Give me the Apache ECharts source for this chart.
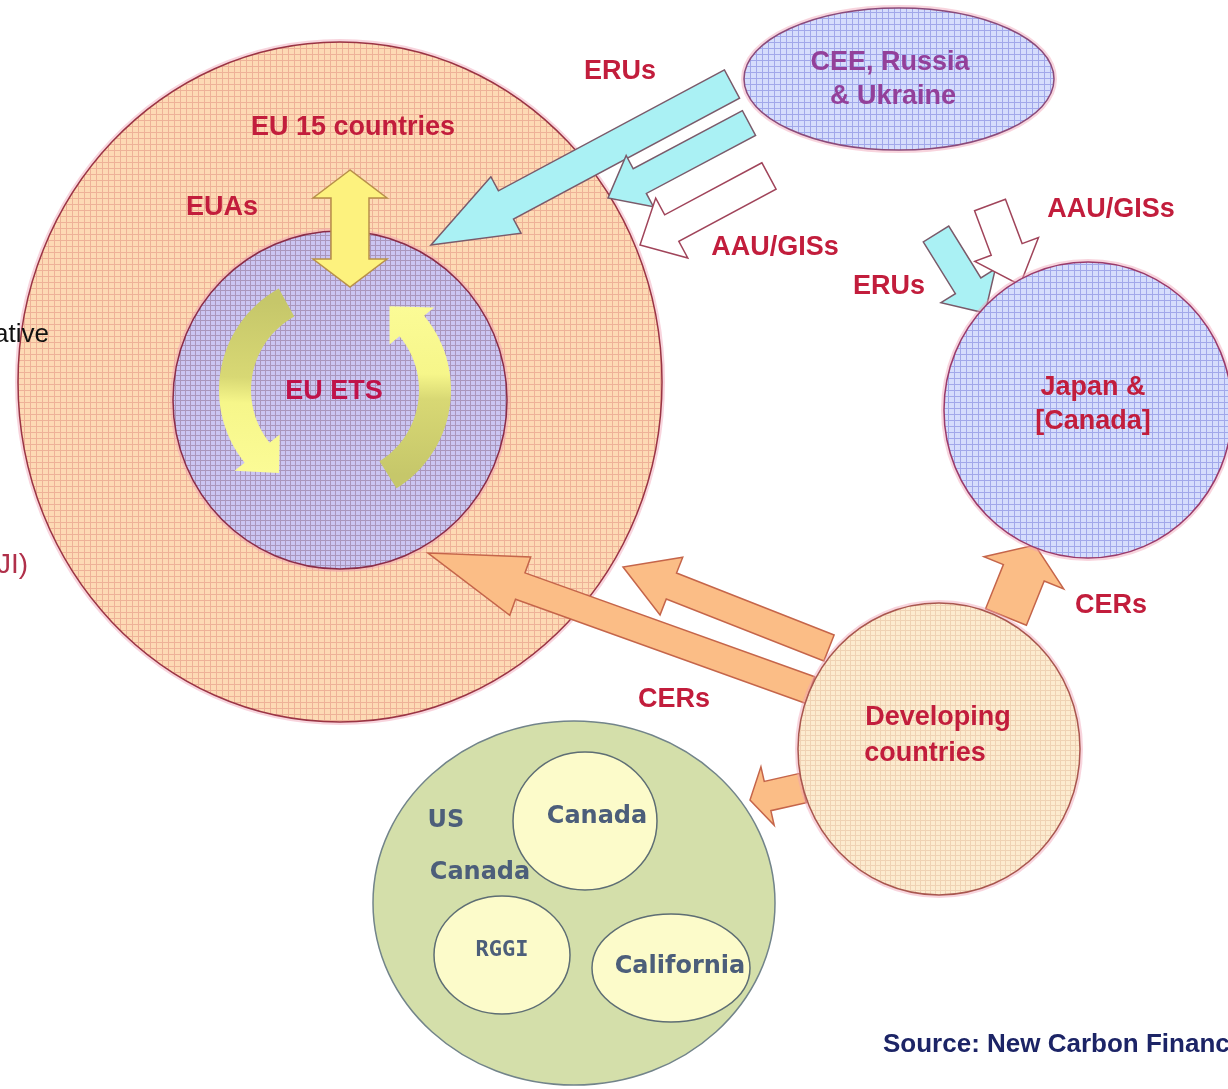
<!DOCTYPE html>
<html>
<head>
<meta charset="utf-8">
<script src="https://cdn.jsdelivr.net/npm/echarts@6/dist/echarts.min.js"></script>
<style>
html, body { margin: 0; padding: 0; background: #fff; }
#main { width: 1228px; height: 1089px; }
</style>
</head>
<body>
<div id="main"></div>
<script>
// 市场区域 (椭圆)
var bubbleNames = ['EU 15 countries', 'EU ETS', 'CEE, Russia & Ukraine', 'Japan & [Canada]', 'Developing countries', 'US', 'Canada', 'RGGI', 'California'];
var bubbleX  = [340, 340, 899, 1088, 939, 574, 585, 502, 671];
var bubbleY  = [382, 400,  79,  410, 749, 903, 821, 955, 968];
var bubbleRX = [322, 167, 155,  144, 141, 201,  72,  68,  79];
var bubbleRY = [340, 169,  71,  148, 146, 182,  69,  59,  54];

// 信用流向箭头 (起点 -> 终点)
var arrowNames = ['ERUs', 'ERUs 2', 'AAU/GISs', 'ERUs Japan', 'AAU/GISs Japan', 'CERs EU ETS', 'CERs EU 15', 'CERs US', 'CERs Japan', 'EUAs'];
var arrowFromX = [732, 749, 769, 936, 990, 810, 829, 803, 1006, 350];
var arrowFromY = [ 84, 123, 176, 234, 205, 690, 648, 788,  617, 170];
var arrowToX   = [431, 608, 640, 985, 1020, 428, 623, 750, 1035, 350];
var arrowToY   = [245, 198, 245, 313, 285, 553, 567, 800,  545, 287];

// EU ETS 内部循环箭头 (角度, 度)
var cycleNames = ['left', 'right'];
var cycleCX = [335, 335];
var cycleCY = [390, 390];
var cycleR = [100, 100];
var cycleStart = [241, 58];
var cycleEnd = [124, -57];

// 文字标签
var labelTexts = ['ERUs', 'EU 15 countries', 'EUAs', 'EU ETS', 'CEE, Russia', '& Ukraine', 'AAU/GISs', 'AAU/GISs', 'ERUs',
    'Japan &', '[Canada]', 'CERs', 'CERs', 'Developing', 'countries', 'US', 'Canada', 'Canada', 'RGGI', 'California',
    'Source: New Carbon Finance', 'ative', 'JI)'];
var labelX = [620, 353, 222, 334, 890, 893, 775, 1111, 889, 1093, 1093, 1111, 674, 938, 925, 446, 480, 597, 502, 680, 883, -6, -3];
var labelY = [72, 128, 208, 392, 63, 97, 248, 210, 287, 388, 422, 606, 700, 718, 754, 821, 873, 817, 950, 967, 1045, 335, 565];
var labelKind = ['red', 'red', 'red', 'ets', 'cee', 'cee', 'red', 'red', 'red', 'red', 'red', 'red', 'red', 'red', 'red',
    'us', 'us', 'us', 'usSmall', 'us', 'source', 'cut', 'cutRed'];

//网格底纹
function gridPattern(base, line, step) {
    var c = document.createElement('canvas');
    c.width = step;
    c.height = step;
    var ctx = c.getContext('2d');
    ctx.fillStyle = base;
    ctx.fillRect(0, 0, step, step);
    ctx.fillStyle = line;
    ctx.fillRect(0, 0, step, 1);
    ctx.fillRect(0, 0, 1, step);
    return {image: c, repeat: 'repeat'};
}

var bubbleStyle = {
    'EU 15 countries': {fill: gridPattern('#fddab4', '#eeb298', 6), stroke: '#9a3444', lw: 1.5, halo: true},
    'EU ETS': {fill: gridPattern('#cbc5f2', '#aa96bc', 5), stroke: '#8a2c48', lw: 1.5, halo: true},
    'CEE, Russia & Ukraine': {fill: gridPattern('#d6ddfc', '#a2a8ea', 6), stroke: '#8a4a7a', lw: 1.5, halo: true},
    'Japan & [Canada]': {fill: gridPattern('#d6ddfc', '#a2a8ea', 6), stroke: '#9a3a6a', lw: 1.5, halo: true},
    'Developing countries': {fill: gridPattern('#fcebcf', '#efd2b4', 5), stroke: '#a8564e', lw: 1.5, halo: true},
    'US': {fill: '#d4dfaa', stroke: '#72848a', lw: 1.5},
    'Canada': {fill: '#fcfbca', stroke: '#5e6e74', lw: 1.5},
    'RGGI': {fill: '#fcfbca', stroke: '#5e6e74', lw: 1.5},
    'California': {fill: '#fcfbca', stroke: '#5e6e74', lw: 1.5}
};

var cyan = {fill: '#aaf1f4', stroke: '#7a5a6a'};
var white = {fill: '#ffffff', stroke: '#a0445a'};
var orange = {fill: '#fbbd86', stroke: '#c5654a'};
var yellow = {fill: '#fdf27e', stroke: '#b8904a'};
// shaft 宽, 箭头宽, 箭头长
var arrowShape = {
    'ERUs': {w: 32, hw: 64, hl: 85, c: cyan},
    'ERUs 2': {w: 28, hw: 58, hl: 36, c: cyan},
    'AAU/GISs': {w: 30, hw: 68, hl: 36, c: white},
    'ERUs Japan': {w: 30, hw: 64, hl: 32, c: cyan},
    'AAU/GISs Japan': {w: 33, hw: 68, hl: 38, c: white},
    'CERs EU ETS': {w: 28, hw: 62, hl: 98, c: orange},
    'CERs EU 15': {w: 28, hw: 62, hl: 52, c: orange},
    'CERs US': {w: 30, hw: 60, hl: 18, c: orange},
    'CERs Japan': {w: 44, hw: 86, hl: 30, c: orange},
    'EUAs': {w: 38, hw: 74, hl: 28, c: yellow, both: true}
};

var labelStyle = {
    red: {font: 'bold 27px "Liberation Sans", Arial, sans-serif', fill: '#c21d3c', align: 'center'},
    ets: {font: 'bold 27px "Liberation Sans", Arial, sans-serif', fill: '#c0124a', align: 'center'},
    cee: {font: 'bold 27px "Liberation Sans", Arial, sans-serif', fill: '#93409a', align: 'center'},
    us: {font: 'bold 24px "DejaVu Sans", Verdana, sans-serif', fill: '#4c5e7a', align: 'center'},
    usSmall: {font: 'bold 22px "DejaVu Sans Mono", monospace', fill: '#4c5e7a', align: 'center'},
    source: {font: 'bold 26px "Liberation Sans", Arial, sans-serif', fill: '#1c2466', align: 'left'},
    cut: {font: '26px "Liberation Sans", Arial, sans-serif', fill: '#111111', align: 'left'},
    cutRed: {font: '28px "Liberation Sans", Arial, sans-serif', fill: '#b0304a', align: 'left'}
};

function bubbleData(list) {
    return list.map(function (n) {
        var i = bubbleNames.indexOf(n);
        return [bubbleX[i], bubbleY[i], bubbleRX[i], bubbleRY[i], i];
    });
}

var renderBubble = function (params, api) {
    var i = api.value(4);
    var c = api.coord([api.value(0), api.value(1)]);
    var s = api.size([api.value(2), api.value(3)]);
    var st = bubbleStyle[bubbleNames[i]];
    var children = [];
    if (st.halo) {
        children.push({
            type: 'ellipse',
            shape: {cx: c[0], cy: c[1], rx: s[0] + 1, ry: s[1] + 1},
            style: {fill: 'none', stroke: 'rgba(240,160,180,0.45)', lineWidth: 4}
        });
    }
    children.push({
        type: 'ellipse',
        shape: {cx: c[0], cy: c[1], rx: s[0], ry: s[1]},
        style: {fill: st.fill, stroke: st.stroke, lineWidth: st.lw}
    });
    return {type: 'group', children: children};
};

var renderArrow = function (params, api) {
    var i = api.value(4);
    var sh = arrowShape[arrowNames[i]];
    var a = api.coord([api.value(0), api.value(1)]);
    var b = api.coord([api.value(2), api.value(3)]);
    var dx = b[0] - a[0], dy = b[1] - a[1];
    var len = Math.sqrt(dx * dx + dy * dy);
    var ux = dx / len, uy = dy / len;
    var nx = -uy, ny = ux;
    function p(base, k, d) { return [base[0] + nx * k + ux * d, base[1] + ny * k + uy * d]; }
    var pts;
    if (sh.both) {
        pts = [a, p(a, sh.hw / 2, sh.hl), p(a, sh.w / 2, sh.hl), p(b, sh.w / 2, -sh.hl), p(b, sh.hw / 2, -sh.hl), b,
            p(b, -sh.hw / 2, -sh.hl), p(b, -sh.w / 2, -sh.hl), p(a, -sh.w / 2, sh.hl), p(a, -sh.hw / 2, sh.hl)];
    } else {
        pts = [p(a, sh.w / 2, 0), p(b, sh.w / 2, -sh.hl), p(b, sh.hw / 2, -sh.hl), b,
            p(b, -sh.hw / 2, -sh.hl), p(b, -sh.w / 2, -sh.hl), p(a, -sh.w / 2, 0)];
    }
    return {
        type: 'polygon',
        shape: {points: pts},
        style: {fill: sh.c.fill, stroke: sh.c.stroke, lineWidth: 1.5, lineJoin: 'miter'}
    };
};

var renderCycle = function (params, api) {
    var c = api.coord([api.value(0), api.value(1)]);
    var r = api.size([api.value(2), api.value(2)])[0];
    var a0 = api.value(3) * Math.PI / 180;
    var a1 = api.value(4) * Math.PI / 180;
    var dir = a1 > a0 ? 1 : -1;
    var w = 32, hw = 58, hd = 30 / r;
    var bodyEnd = a1 - dir * hd;
    var n = 30, outer = [], inner = [];
    for (var k = 0; k <= n; k++) {
        var t = a0 + (bodyEnd - a0) * k / n;
        outer.push([c[0] + (r + w / 2) * Math.cos(t), c[1] + (r + w / 2) * Math.sin(t)]);
        inner.push([c[0] + (r - w / 2) * Math.cos(t), c[1] + (r - w / 2) * Math.sin(t)]);
    }
    var tip = [c[0] + r * Math.cos(a1), c[1] + r * Math.sin(a1)];
    var pts = outer.concat([
        [c[0] + (r + hw / 2) * Math.cos(bodyEnd), c[1] + (r + hw / 2) * Math.sin(bodyEnd)],
        tip,
        [c[0] + (r - hw / 2) * Math.cos(bodyEnd), c[1] + (r - hw / 2) * Math.sin(bodyEnd)]
    ]).concat(inner.reverse());
    var tail = [c[0] + r * Math.cos(a0), c[1] + r * Math.sin(a0)];
    return {
        type: 'polygon',
        shape: {points: pts},
        style: {
            fill: {
                type: 'linear', global: true,
                x: tail[0], y: tail[1], x2: tip[0], y2: tip[1],
                colorStops: [{offset: 0, color: '#c6c76a'}, {offset: 0.45, color: '#d8d874'}, {offset: 0.6, color: '#f6f68a'}, {offset: 1, color: '#fbfb96'}]
            }
        }
    };
};

var renderLabel = function (params, api) {
    var i = api.value(2);
    var st = labelStyle[labelKind[i]];
    var c = api.coord([api.value(0), api.value(1)]);
    return {
        type: 'text',
        x: c[0],
        y: c[1],
        style: {text: labelTexts[i], font: st.font, fill: st.fill, align: st.align, verticalAlign: 'middle'}
    };
};

var arrowData = arrowNames.map(function (n, i) {
    return [arrowFromX[i], arrowFromY[i], arrowToX[i], arrowToY[i], i];
});
var cycleData = cycleNames.map(function (n, i) {
    return [cycleCX[i], cycleCY[i], cycleR[i], cycleStart[i], cycleEnd[i]];
});
var labelData = labelTexts.map(function (t, i) {
    return [labelX[i], labelY[i], i];
});

var myChart = echarts.init(document.getElementById('main'));
myChart.setOption({
    animation: false,
    backgroundColor: '#ffffff',
    grid: {left: 0, right: 0, top: 0, bottom: 0},
    xAxis: {type: 'value', min: 0, max: 1228, show: false},
    yAxis: {type: 'value', min: 0, max: 1089, inverse: true, show: false},
    series: [
        {type: 'custom', silent: true, z: 1, renderItem: renderBubble, data: bubbleData(['EU 15 countries', 'EU ETS'])},
        {type: 'custom', silent: true, z: 2, renderItem: renderCycle, data: cycleData},
        {type: 'custom', silent: true, z: 3, renderItem: renderArrow, data: arrowData},
        {type: 'custom', silent: true, z: 4, renderItem: renderBubble,
            data: bubbleData(['CEE, Russia & Ukraine', 'Japan & [Canada]', 'Developing countries', 'US', 'Canada', 'RGGI', 'California'])},
        {type: 'custom', silent: true, z: 5, renderItem: renderLabel, data: labelData}
    ]
});
</script>
</body>
</html>
